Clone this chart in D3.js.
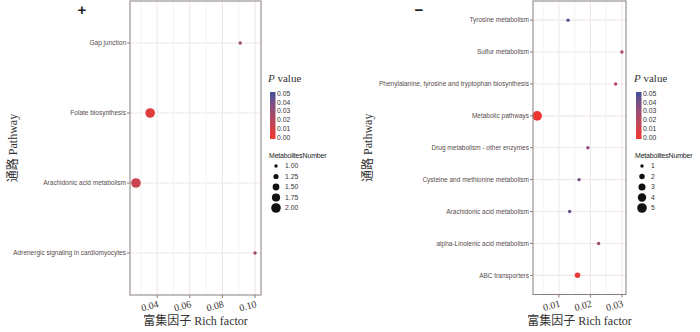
<!DOCTYPE html>
<html>
<head>
<meta charset="utf-8">
<script src="https://cdn.jsdelivr.net/npm/d3@7"></script>
<style>
  body { margin: 0; background: #fff; }
  svg { display: block; }
</style>
</head>
<body>
<div id="chart"></div>
<script>
// left panel (+)
const posPathways = ["Gap junction", "Folate biosynthesis", "Arachidonic acid metabolism", "Adrenergic signaling in cardiomyocytes"];
const posRich = [0.0909, 0.0357, 0.0270, 0.1000];
const posP = [0.030, 0.006, 0.013, 0.027];
const posCount = [1, 2, 2, 1];
const posTicks = [0.04, 0.06, 0.08, 0.10];
const posMinor = [0.03, 0.05, 0.07, 0.09];
const posSizeLegend = [1.00, 1.25, 1.50, 1.75, 2.00];

// right panel (-)
const negPathways = ["Tyrosine metabolism", "Sulfur metabolism", "Phenylalanine, tyrosine and tryptophan biosynthesis",
  "Metabolic pathways", "Drug metabolism - other enzymes", "Cysteine and methionine metabolism",
  "Arachidonic acid metabolism", "alpha-Linolenic acid metabolism", "ABC transporters"];
const negRich = [0.0129, 0.0300, 0.0280, 0.0031, 0.0192, 0.0164, 0.0134, 0.0226, 0.0159];
const negP = [0.046, 0.024, 0.020, 0.001, 0.032, 0.038, 0.043, 0.029, 0.003];
const negCount = [1, 1, 1, 5, 1, 1, 1, 1, 2];
const negTicks = [0.01, 0.02, 0.03];
const negMinor = [0.005, 0.015, 0.025];
const negSizeLegend = [1, 2, 3, 4, 5];

const pLegendTicks = [0.00, 0.01, 0.02, 0.03, 0.04, 0.05];

const width = 700, height = 332;
const svg = d3.select("#chart").append("svg")
    .attr("width", width)
    .attr("height", height);

const serif = "'Liberation Serif', 'Times New Roman', 'Noto Sans CJK SC', serif";
const sans = "'Liberation Sans', Arial, sans-serif";
const borderCol = "#8a7c7c";
const gridCol = "#efe7e9";

// p value colour: red (low) -> blue (high)
const color = d3.scaleLinear()
    .domain([0, 0.05])
    .range(["#f0352f", "#3e4f9e"])
    .interpolate(d3.interpolateLab);

const defs = svg.append("defs");
const grad = defs.append("linearGradient")
    .attr("id", "pgrad")
    .attr("x1", 0).attr("y1", 1).attr("x2", 0).attr("y2", 0);
d3.range(0, 1.0001, 0.1).forEach(t => {
    grad.append("stop").attr("offset", t).attr("stop-color", color(t * 0.05));
});

function drawPanel(opt) {
    const g = svg.append("g");
    const x = d3.scaleLinear().domain(opt.xDomain).range([opt.left, opt.right]);
    const y = d3.scalePoint().domain(opt.pathways).range([opt.top, opt.bottom]).padding(0.6);

    // grid
    g.selectAll(".minor").data(opt.minor).enter().append("line")
        .attr("x1", d => x(d)).attr("x2", d => x(d))
        .attr("y1", opt.top).attr("y2", opt.bottom)
        .attr("stroke", gridCol).attr("stroke-width", 0.6);
    g.selectAll(".major").data(opt.ticks).enter().append("line")
        .attr("x1", d => x(d)).attr("x2", d => x(d))
        .attr("y1", opt.top).attr("y2", opt.bottom)
        .attr("stroke", gridCol).attr("stroke-width", 1.1);
    g.selectAll(".hgrid").data(opt.pathways).enter().append("line")
        .attr("x1", opt.left).attr("x2", opt.right)
        .attr("y1", d => y(d)).attr("y2", d => y(d))
        .attr("stroke", gridCol).attr("stroke-width", 1.1);

    // points
    const size = d3.scaleSqrt().domain(opt.sizeDomain).range([1.7, 4.8]);
    const pts = opt.pathways.map((p, i) => ({ p, r: opt.rich[i], pv: opt.pval[i], n: opt.count[i] }));
    g.selectAll(".pt").data(pts).enter().append("circle")
        .attr("cx", d => x(d.r))
        .attr("cy", d => y(d.p))
        .attr("r", d => size(d.n))
        .attr("fill", d => color(d.pv));

    // border
    g.append("rect")
        .attr("x", opt.left).attr("y", opt.top)
        .attr("width", opt.right - opt.left).attr("height", opt.bottom - opt.top)
        .attr("fill", "none").attr("stroke", borderCol).attr("stroke-width", 1);

    // y labels
    g.selectAll(".ytick").data(opt.pathways).enter().append("line")
        .attr("x1", opt.left - 3).attr("x2", opt.left)
        .attr("y1", d => y(d)).attr("y2", d => y(d))
        .attr("stroke", borderCol);
    g.selectAll(".ylab").data(opt.pathways).enter().append("text")
        .attr("x", opt.left - 4)
        .attr("y", d => y(d))
        .attr("dy", "0.35em")
        .attr("text-anchor", "end")
        .style("font-family", sans)
        .style("font-size", "6.5px")
        .attr("fill", "#574b4b")
        .text(d => d);

    // x ticks
    g.selectAll(".xtick").data(opt.ticks).enter().append("line")
        .attr("x1", d => x(d)).attr("x2", d => x(d))
        .attr("y1", opt.bottom).attr("y2", opt.bottom + 3)
        .attr("stroke", borderCol);
    g.selectAll(".xlab").data(opt.ticks).enter().append("text")
        .attr("transform", d => `translate(${x(d) + 2},${opt.bottom + 12}) rotate(-15)`)
        .attr("text-anchor", "end")
        .style("font-family", serif)
        .style("font-size", "10px")
        .attr("fill", "#3a3333")
        .text(d => opt.fmt(d));

    // axis titles
    g.append("text")
        .attr("x", (opt.left + opt.right) / 2)
        .attr("y", 325)
        .attr("text-anchor", "middle")
        .style("font-family", serif)
        .style("font-size", "12px")
        .attr("fill", "#333")
        .text("富集因子 Rich factor");
    g.append("text")
        .attr("transform", `translate(${opt.yTitleX},${(opt.top + opt.bottom) / 2}) rotate(-90)`)
        .attr("text-anchor", "middle")
        .style("font-family", serif)
        .style("font-size", "12px")
        .attr("fill", "#333")
        .text("通路 Pathway");

    // sign
    g.append("text")
        .attr("x", opt.signX).attr("y", 15)
        .attr("text-anchor", "middle")
        .style("font-family", sans)
        .style("font-size", "15px")
        .style("font-weight", "bold")
        .attr("fill", "#222")
        .text(opt.sign);

    // colour legend
    const lx = opt.legendX;
    const pt = g.append("text")
        .attr("x", lx).attr("y", 82)
        .style("font-family", serif)
        .style("font-size", "11px")
        .attr("fill", "#333");
    pt.append("tspan").style("font-style", "italic").text("P");
    pt.append("tspan").text(" value");

    const barTop = 92, barBottom = 139;
    g.append("rect")
        .attr("x", lx + 2).attr("y", barTop)
        .attr("width", 5.5).attr("height", barBottom - barTop)
        .attr("fill", "url(#pgrad)");
    const by = d3.scaleLinear().domain([0, 0.05]).range([barBottom - 1.5, barTop + 1.5]);
    g.selectAll(".plab").data(pLegendTicks).enter().append("text")
        .attr("x", lx + 9).attr("y", d => by(d))
        .attr("dy", "0.35em")
        .style("font-family", sans)
        .style("font-size", "6.8px")
        .attr("fill", "#333")
        .text(d => d.toFixed(2));

    // size legend
    g.append("text")
        .attr("x", lx + 1).attr("y", 158)
        .style("font-family", sans)
        .style("font-size", "7px")
        .style("letter-spacing", "-0.2px")
        .attr("fill", "#222")
        .text("MetabolitesNumber");
    g.selectAll(".slc").data(opt.sizeLegend).enter().append("circle")
        .attr("cx", lx + 8)
        .attr("cy", (d, i) => 166 + i * 10.5)
        .attr("r", d => size(d))
        .attr("fill", "#111");
    g.selectAll(".sll").data(opt.sizeLegend).enter().append("text")
        .attr("x", lx + 17)
        .attr("y", (d, i) => 166 + i * 10.5)
        .attr("dy", "0.35em")
        .style("font-family", sans)
        .style("font-size", "6.8px")
        .attr("fill", "#333")
        .text(d => opt.sizeFmt(d));
}

drawPanel({
    pathways: posPathways, rich: posRich, pval: posP, count: posCount,
    ticks: posTicks, minor: posMinor, sizeLegend: posSizeLegend,
    xDomain: [0.02335, 0.10365], sizeDomain: [1, 2],
    left: 130, right: 261, top: 1, bottom: 295,
    yTitleX: 17, signX: 82, sign: "+", legendX: 268,
    fmt: d => d.toFixed(2), sizeFmt: d => d.toFixed(2)
});

drawPanel({
    pathways: negPathways, rich: negRich, pval: negP, count: negCount,
    ticks: negTicks, minor: negMinor, sizeLegend: negSizeLegend,
    xDomain: [0.00177, 0.0313], sizeDomain: [1, 5],
    left: 533, right: 626, top: 1, bottom: 294.5,
    yTitleX: 372, signX: 419, sign: "−", legendX: 634,
    fmt: d => d.toFixed(2), sizeFmt: d => d
});
</script>
</body>
</html>
